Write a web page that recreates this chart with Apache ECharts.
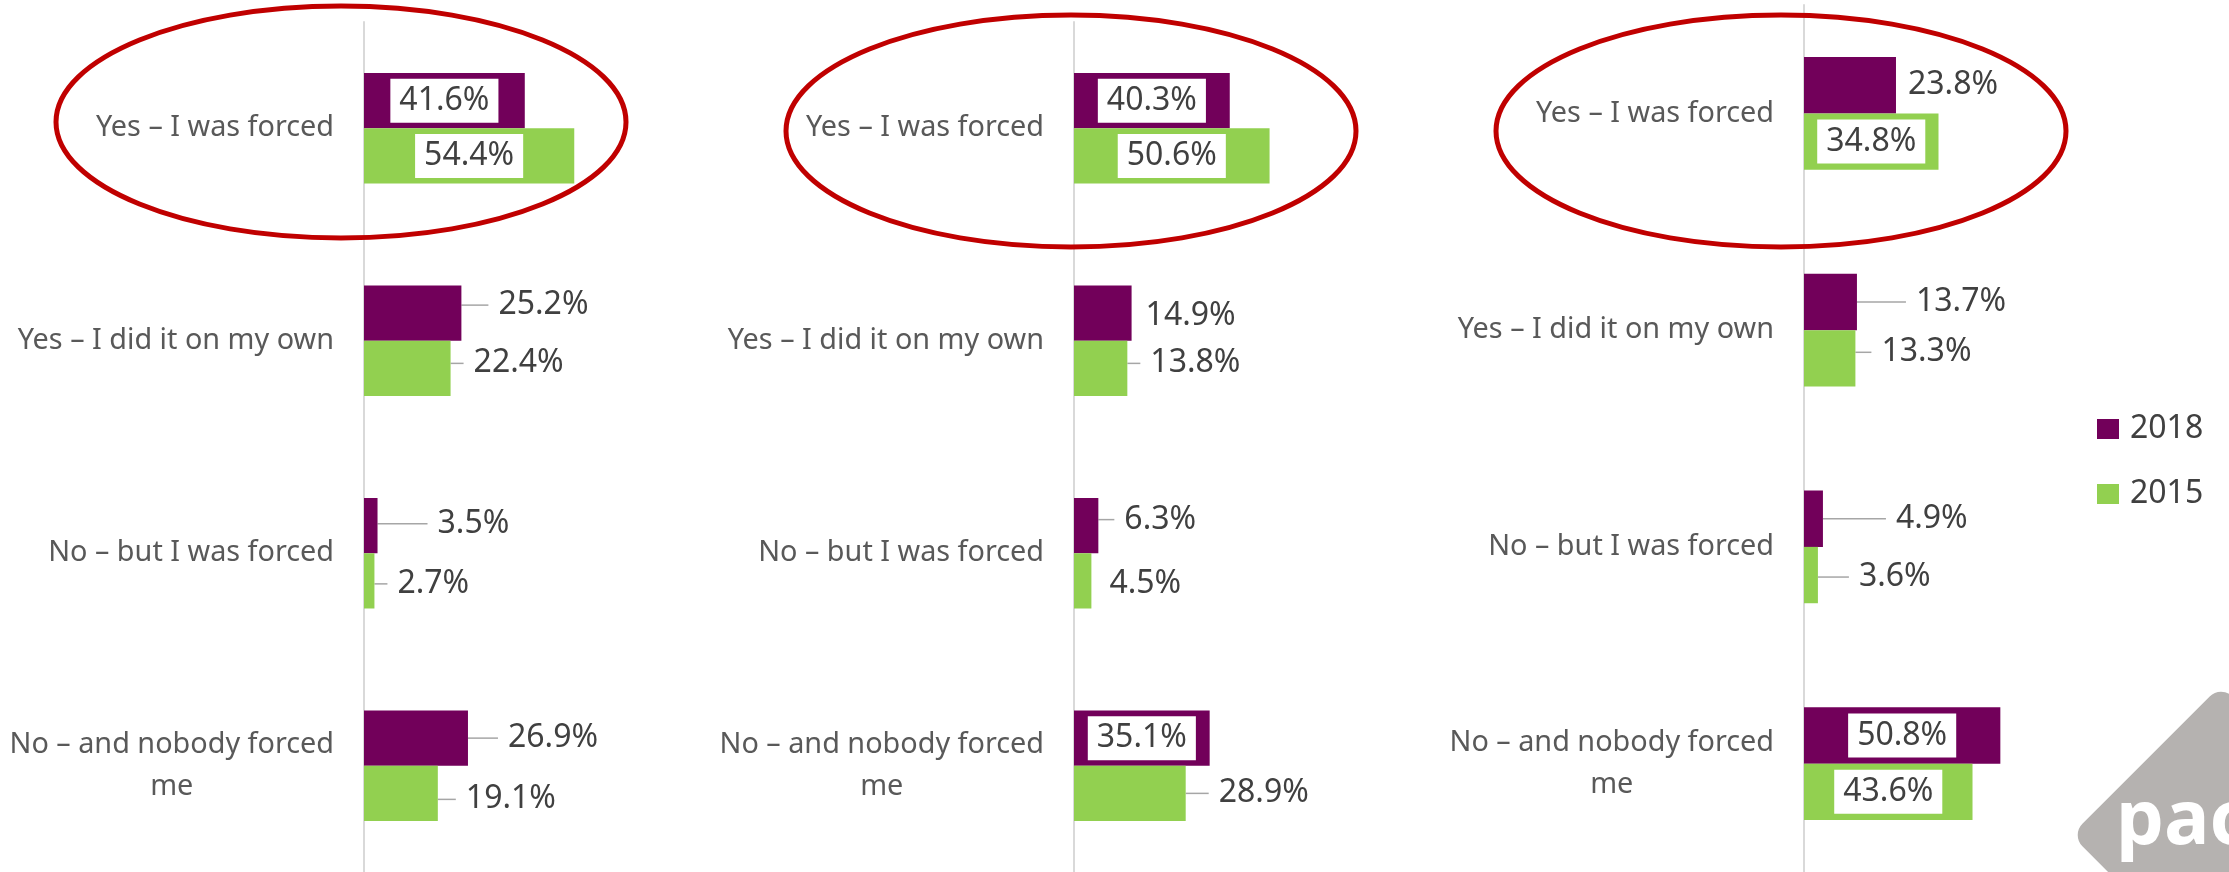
<!DOCTYPE html>
<html>
<head>
<meta charset="utf-8">
<title>Forced</title>
<script src="https://cdn.jsdelivr.net/npm/echarts@6/dist/echarts.min.js"></script>
</head>
<body style="margin:0;background:#fff">
<div id="main" style="width:2229px;height:872px"></div>
<script type="text/javascript">
var categories = ['Yes – I was forced', 'Yes – I did it on my own', 'No – but I was forced', 'No – and nobody forced\nme'];
var years = ['2018', '2015'];

// three survey panels, same four answers
var panel1_2018 = [41.6, 25.2, 3.5, 26.9];
var panel1_2015 = [54.4, 22.4, 2.7, 19.1];
var panel2_2018 = [40.3, 14.9, 6.3, 35.1];
var panel2_2015 = [50.6, 13.8, 4.5, 28.9];
var panel3_2018 = [23.8, 13.7, 4.9, 50.8];
var panel3_2015 = [34.8, 13.3, 3.6, 43.6];

var values = [[panel1_2018, panel1_2015], [panel2_2018, panel2_2015], [panel3_2018, panel3_2015]];

var FONT = 'Noto Sans';
var colors = ['#72005A', '#92D050'];
var PAD = 10;

// where each value label goes: 'in' = white box in the bar, else [dx, dy, leader line]
var place = [
    [['in', [37, -8, 1], [60, -2, 1], [40, 0, 1]], ['in', [23, -5, 1], [23, 3, 1], [28, 6, 1]]],
    [['in', [14, 3, 0], [26, -6, 1], 'in'], ['in', [23, -5, 1], [18, 3, 0], [33, 0, 1]]],
    [[[12, 0, 0], [59, 0, 1], [73, 0, 1], 'in'], ['in', [26, -6, 1], [41, 2, 1], 'in']]
];

var grids = [
    {left: 364, top: 22, width: 386.5, height: 851},
    {left: 1074, top: 22, width: 386.5, height: 851},
    {left: 1804, top: 5, width: 386.5, height: 867}
];

var myChart = echarts.init(document.getElementById('main'));

function makeData(vals, pl) {
    return vals.map(function (v, i) {
        if (pl[i] === 'in') {
            return {
                value: v,
                label: {position: 'inside', backgroundColor: '#fff', padding: [6, 9]},
                labelLine: {show: false}
            };
        }
        return {value: v, labelLine: {show: !!pl[i][2]}};
    });
}

var xAxes = [], yAxes = [], series = [];
grids.forEach(function (g, p) {
    xAxes.push({gridIndex: p, type: 'value', min: 0, max: 100, show: false});
    yAxes.push({
        gridIndex: p,
        type: 'category',
        data: categories,
        inverse: true,
        axisLine: {show: true, lineStyle: {color: '#d9d9d9', width: 2}},
        axisTick: {show: false},
        axisLabel: {
            margin: 30,
            formatter: function (v) {
                return v.split('\n').map(function (s) { return '{c|' + s + '}'; }).join('\n');
            },
            rich: {
                c: {align: 'center', fontSize: 28.8, color: '#595959', fontFamily: FONT, lineHeight: 42}
            }
        }
    });
    years.forEach(function (y, k) {
        series.push({
            type: 'bar',
            name: y,
            xAxisIndex: p,
            yAxisIndex: p,
            data: makeData(values[p][k], place[p][k]),
            itemStyle: {color: colors[k]},
            barGap: '0%',
            barCategoryGap: '48%',
            label: {
                show: true,
                position: 'right',
                distance: 0,
                formatter: '{c}%',
                color: '#404040',
                fontSize: 32,
                fontFamily: FONT,
                backgroundColor: 'rgba(255,255,255,0)',
                padding: [0, 0, 0, PAD]
            },
            labelLine: {show: true, length2: 10, lineStyle: {color: '#a6a6a6', width: 1.5}},
            labelLayout: function (params) {
                var pl = place[p][k][params.dataIndex];
                if (pl === 'in') return {};
                return {dx: pl[0] - PAD, dy: pl[1]};
            }
        });
    });
});

var option = {
    backgroundColor: '#fff',
    animation: false,
    grid: grids,
    xAxis: xAxes,
    yAxis: yAxes,
    legend: {
        data: years,
        orient: 'vertical',
        left: 2092,
        top: 408,
        itemWidth: 22,
        itemHeight: 20,
        itemGap: 33,
        icon: 'rect',
        selectedMode: false,
        textStyle: {fontSize: 32, color: '#404040', fontFamily: FONT, padding: [0, 0, 0, 6]}
    },
    graphic: [
        {type: 'ellipse', z: 100, shape: {cx: 341, cy: 122, rx: 285, ry: 116}, style: {fill: null, stroke: '#C00000', lineWidth: 5}},
        {type: 'ellipse', z: 100, shape: {cx: 1071, cy: 131, rx: 285, ry: 116}, style: {fill: null, stroke: '#C00000', lineWidth: 5}},
        {type: 'ellipse', z: 100, shape: {cx: 1781, cy: 131, rx: 285, ry: 116}, style: {fill: null, stroke: '#C00000', lineWidth: 5}},
        // logo in the corner
        {type: 'rect', x: 2221, y: 835, rotation: Math.PI / 4, shape: {x: -106, y: -106, width: 212, height: 212, r: 16}, style: {fill: '#b5b2b0'}},
        {type: 'text', x: 2116, y: 822, style: {text: 'pac', fill: '#fff', font: 'bold 76px "Noto Sans"', verticalAlign: 'middle'}}
    ],
    series: series
};

myChart.setOption(option);
</script>
</body>
</html>
